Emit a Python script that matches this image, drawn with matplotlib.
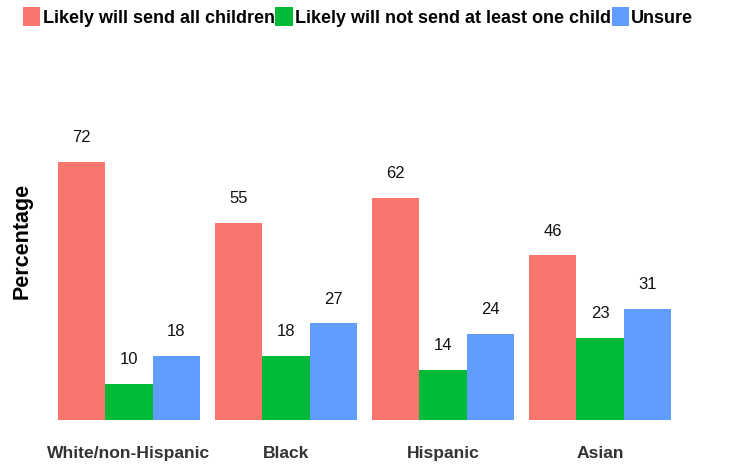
import matplotlib
matplotlib.use("Agg")
import matplotlib.pyplot as plt
import numpy as np

plt.rcParams["font.family"] = ["Liberation Sans", "DejaVu Sans"]

groups = ["White/non-Hispanic", "Black", "Hispanic", "Asian"]
series_labels = [
    "Likely will send all children",
    "Likely will not send at least one child",
    "Unsure",
]
send_all = [72, 55, 62, 46]
not_send = [10, 18, 14, 23]
unsure = [18, 27, 24, 31]
colors = ["#F8766D", "#00BA38", "#619CFF"]

W, H = 733, 465
fig = plt.figure(figsize=(W / 100, H / 100), dpi=100)
ax = fig.add_axes([0, 45 / H, 1, 358 / H])

x = np.arange(len(groups))
bar_w = 0.3025
handles = []
for i, (vals, col, lab) in enumerate(zip([send_all, not_send, unsure], colors, series_labels)):
    pos = x + (i - 1) * bar_w
    bars = ax.bar(pos, vals, width=bar_w, color=col, label=lab)
    handles.append(bars)
    for p, v in zip(pos, vals):
        ax.annotate(f"{v}", (p, v), xytext=(0, 17.5), textcoords="offset points",
                    ha="center", va="center", fontsize=12, color="#111111")

ax.set_xlim((0 - 129) / 157, (W - 129) / 157)
ax.set_ylim(0, 100)
ax.set_yticks([])
ax.set_xticks(x)
ax.set_xticklabels(groups, fontsize=12.6, fontweight="bold", color="#333333")
ax.tick_params(axis="x", length=0, pad=19)
for s in ax.spines.values():
    s.set_visible(False)

fig.text(22 / W, 1 - 241 / H, "Percentage", rotation=90, ha="center", va="center",
         fontsize=15.5, fontweight="bold")

fig.legend(handles=handles, labels=series_labels, loc="upper left",
           bbox_to_anchor=(16 / W, 1 - 0 / H), ncol=3, frameon=False,
           prop={"weight": "bold", "size": 13},
           handlelength=0.95, handleheight=1.2, handletextpad=0.12,
           columnspacing=0.05, borderaxespad=0)

fig.savefig("out.png", dpi=100)
